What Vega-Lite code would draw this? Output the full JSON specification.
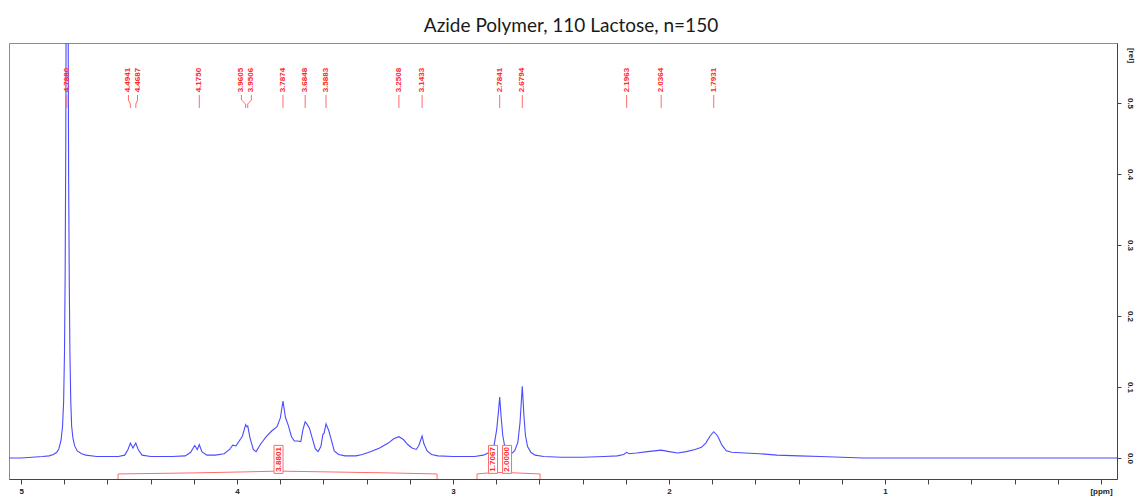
{
  "$schema": "https://vega.github.io/schema/vega-lite/v6.json",
  "width": 1108,
  "height": 436,
  "autosize": {"type": "none"},
  "padding": {"left": 9, "top": 43, "right": 21, "bottom": 19},
  "background": "white",
  "title": {
    "text": "Azide Polymer, 110 Lactose, n=150",
    "frame": "group",
    "font": "Lato",
    "fontSize": 19,
    "fontWeight": "normal",
    "color": "#1a1a1a",
    "anchor": "middle",
    "baseline": "alphabetic",
    "offset": 12,
    "dx": 8,
    "dy": 20
  },
  "config": {
    "view": {"stroke": "#8c8c8c", "strokeWidth": 1},
    "axis": {"grid": false},
    "axisX": {
      "tickSize": 5,
      "tickColor": "#444",
      "domainColor": "#444",
      "labelFont": "Liberation Sans",
      "labelFontSize": 8,
      "labelFontWeight": "bold",
      "labelColor": "#222",
      "labelPadding": 3,
      "labelOverlap": false,
      "labelFlush": false
    },
    "axisY": {
      "labelAngle": 90,
      "labelAlign": "center",
      "labelBaseline": "middle",
      "labelPadding": 8,
      "labelFont": "Liberation Sans",
      "labelFontSize": 8,
      "labelFontWeight": "bold",
      "labelColor": "#222",
      "labelOverlap": false,
      "tickSize": 4,
      "tickColor": "#444",
      "domainColor": "#444",
      "titleAngle": 90,
      "titleX": 13,
      "titleY": 12,
      "titleAlign": "center",
      "titleBaseline": "middle",
      "titleFont": "Liberation Sans",
      "titleFontSize": 8,
      "titleFontWeight": "bold",
      "titleColor": "#222"
    }
  },
  "datasets": {
    "spectrum": [
      {"ppm": 5.056, "i": 0.0}, {"ppm": 5.0, "i": 0.0}, {"ppm": 4.95, "i": 0.001}, {"ppm": 4.9, "i": 0.002},
      {"ppm": 4.87, "i": 0.003}, {"ppm": 4.85, "i": 0.005}, {"ppm": 4.835, "i": 0.008}, {"ppm": 4.825, "i": 0.013},
      {"ppm": 4.815, "i": 0.025}, {"ppm": 4.808, "i": 0.045}, {"ppm": 4.803, "i": 0.08}, {"ppm": 4.799, "i": 0.15},
      {"ppm": 4.796, "i": 0.26}, {"ppm": 4.793, "i": 0.45}, {"ppm": 4.791, "i": 0.7}, {"ppm": 4.789, "i": 1.1},
      {"ppm": 4.788, "i": 1.3}, {"ppm": 4.786, "i": 1.1}, {"ppm": 4.783, "i": 0.7}, {"ppm": 4.78, "i": 0.4},
      {"ppm": 4.777, "i": 0.25}, {"ppm": 4.774, "i": 0.15}, {"ppm": 4.77, "i": 0.08}, {"ppm": 4.766, "i": 0.045},
      {"ppm": 4.76, "i": 0.028}, {"ppm": 4.752, "i": 0.017}, {"ppm": 4.74, "i": 0.01}, {"ppm": 4.72, "i": 0.006},
      {"ppm": 4.7, "i": 0.004}, {"ppm": 4.65, "i": 0.002}, {"ppm": 4.6, "i": 0.002}, {"ppm": 4.55, "i": 0.002},
      {"ppm": 4.52, "i": 0.004}, {"ppm": 4.505, "i": 0.012}, {"ppm": 4.494, "i": 0.021}, {"ppm": 4.482, "i": 0.014},
      {"ppm": 4.469, "i": 0.021}, {"ppm": 4.458, "i": 0.012}, {"ppm": 4.44, "i": 0.004}, {"ppm": 4.4, "i": 0.002},
      {"ppm": 4.3, "i": 0.002}, {"ppm": 4.24, "i": 0.003}, {"ppm": 4.215, "i": 0.008}, {"ppm": 4.196, "i": 0.0175},
      {"ppm": 4.184, "i": 0.012}, {"ppm": 4.175, "i": 0.019}, {"ppm": 4.163, "i": 0.009}, {"ppm": 4.14, "i": 0.004},
      {"ppm": 4.1, "i": 0.004}, {"ppm": 4.06, "i": 0.006}, {"ppm": 4.035, "i": 0.012}, {"ppm": 4.02, "i": 0.018},
      {"ppm": 4.005, "i": 0.017}, {"ppm": 3.99, "i": 0.024}, {"ppm": 3.975, "i": 0.031}, {"ppm": 3.9605, "i": 0.047},
      {"ppm": 3.955, "i": 0.044}, {"ppm": 3.9506, "i": 0.045}, {"ppm": 3.94, "i": 0.028}, {"ppm": 3.925, "i": 0.012},
      {"ppm": 3.912, "i": 0.009}, {"ppm": 3.89, "i": 0.02}, {"ppm": 3.865, "i": 0.03}, {"ppm": 3.84, "i": 0.038},
      {"ppm": 3.815, "i": 0.044}, {"ppm": 3.8, "i": 0.056}, {"ppm": 3.7874, "i": 0.08}, {"ppm": 3.776, "i": 0.057},
      {"ppm": 3.763, "i": 0.046}, {"ppm": 3.748, "i": 0.03}, {"ppm": 3.735, "i": 0.024}, {"ppm": 3.72, "i": 0.024},
      {"ppm": 3.705, "i": 0.023}, {"ppm": 3.695, "i": 0.04}, {"ppm": 3.6848, "i": 0.051}, {"ppm": 3.675, "i": 0.047},
      {"ppm": 3.665, "i": 0.042}, {"ppm": 3.652, "i": 0.028}, {"ppm": 3.638, "i": 0.013}, {"ppm": 3.625, "i": 0.009},
      {"ppm": 3.612, "i": 0.016}, {"ppm": 3.603, "i": 0.033}, {"ppm": 3.597, "i": 0.035}, {"ppm": 3.5883, "i": 0.048},
      {"ppm": 3.576, "i": 0.039}, {"ppm": 3.565, "i": 0.027}, {"ppm": 3.55, "i": 0.01}, {"ppm": 3.53, "i": 0.005},
      {"ppm": 3.5, "i": 0.003}, {"ppm": 3.45, "i": 0.003}, {"ppm": 3.42, "i": 0.005}, {"ppm": 3.38, "i": 0.009},
      {"ppm": 3.34, "i": 0.014}, {"ppm": 3.3, "i": 0.021}, {"ppm": 3.275, "i": 0.027}, {"ppm": 3.2508, "i": 0.03},
      {"ppm": 3.23, "i": 0.026}, {"ppm": 3.21, "i": 0.019}, {"ppm": 3.19, "i": 0.014}, {"ppm": 3.17, "i": 0.012},
      {"ppm": 3.158, "i": 0.018}, {"ppm": 3.1433, "i": 0.031}, {"ppm": 3.135, "i": 0.02}, {"ppm": 3.12, "i": 0.01},
      {"ppm": 3.1, "i": 0.005}, {"ppm": 3.07, "i": 0.003}, {"ppm": 3.0, "i": 0.002}, {"ppm": 2.95, "i": 0.002},
      {"ppm": 2.9, "i": 0.002}, {"ppm": 2.86, "i": 0.004}, {"ppm": 2.83, "i": 0.008}, {"ppm": 2.81, "i": 0.018},
      {"ppm": 2.798, "i": 0.04}, {"ppm": 2.79, "i": 0.065}, {"ppm": 2.7841, "i": 0.086}, {"ppm": 2.778, "i": 0.06},
      {"ppm": 2.77, "i": 0.032}, {"ppm": 2.76, "i": 0.015}, {"ppm": 2.745, "i": 0.007}, {"ppm": 2.73, "i": 0.006},
      {"ppm": 2.715, "i": 0.01}, {"ppm": 2.7, "i": 0.022}, {"ppm": 2.69, "i": 0.05}, {"ppm": 2.6794, "i": 0.101},
      {"ppm": 2.672, "i": 0.06}, {"ppm": 2.665, "i": 0.032}, {"ppm": 2.655, "i": 0.016}, {"ppm": 2.64, "i": 0.008},
      {"ppm": 2.62, "i": 0.004}, {"ppm": 2.58, "i": 0.002}, {"ppm": 2.5, "i": 0.001}, {"ppm": 2.4, "i": 0.001},
      {"ppm": 2.3, "i": 0.002}, {"ppm": 2.24, "i": 0.003}, {"ppm": 2.21, "i": 0.005}, {"ppm": 2.1963, "i": 0.008},
      {"ppm": 2.185, "i": 0.006}, {"ppm": 2.15, "i": 0.007}, {"ppm": 2.1, "i": 0.009}, {"ppm": 2.0364, "i": 0.011},
      {"ppm": 2.0, "i": 0.009}, {"ppm": 1.96, "i": 0.007}, {"ppm": 1.92, "i": 0.009}, {"ppm": 1.88, "i": 0.012},
      {"ppm": 1.85, "i": 0.015}, {"ppm": 1.83, "i": 0.021}, {"ppm": 1.81, "i": 0.031}, {"ppm": 1.7931, "i": 0.037},
      {"ppm": 1.775, "i": 0.031}, {"ppm": 1.755, "i": 0.018}, {"ppm": 1.735, "i": 0.01}, {"ppm": 1.71, "i": 0.008},
      {"ppm": 1.65, "i": 0.007}, {"ppm": 1.58, "i": 0.006}, {"ppm": 1.5, "i": 0.004}, {"ppm": 1.4, "i": 0.003},
      {"ppm": 1.3, "i": 0.002}, {"ppm": 1.2, "i": 0.001}, {"ppm": 1.1, "i": 0.0}, {"ppm": 1.0, "i": 0.0},
      {"ppm": 0.8, "i": 0.0}, {"ppm": 0.5, "i": 0.0}, {"ppm": 0.2, "i": 0.0}, {"ppm": 0.0, "i": 0.0},
      {"ppm": -0.074, "i": 0.0}
    ],
    "peaks": [
      {"ppm": 4.788, "lx": 4.788, "label": "4.7880"},
      {"ppm": 4.4941, "lx": 4.503, "label": "4.4941"},
      {"ppm": 4.4687, "lx": 4.461, "label": "4.4687"},
      {"ppm": 4.175, "lx": 4.175, "label": "4.1750"},
      {"ppm": 3.9605, "lx": 3.98, "label": "3.9605"},
      {"ppm": 3.9506, "lx": 3.934, "label": "3.9506"},
      {"ppm": 3.7874, "lx": 3.7874, "label": "3.7874"},
      {"ppm": 3.6848, "lx": 3.6848, "label": "3.6848"},
      {"ppm": 3.5883, "lx": 3.5883, "label": "3.5883"},
      {"ppm": 3.2508, "lx": 3.2508, "label": "3.2508"},
      {"ppm": 3.1433, "lx": 3.1433, "label": "3.1433"},
      {"ppm": 2.7841, "lx": 2.7841, "label": "2.7841"},
      {"ppm": 2.6794, "lx": 2.6794, "label": "2.6794"},
      {"ppm": 2.1963, "lx": 2.1963, "label": "2.1963"},
      {"ppm": 2.0364, "lx": 2.0364, "label": "2.0364"},
      {"ppm": 1.7931, "lx": 1.7931, "label": "1.7931"}
    ],
    "integralCurves": [
      {"seg": "A", "ppm": 4.551, "level": -0.0296},
      {"seg": "A", "ppm": 4.551, "level": -0.0225},
      {"seg": "A", "ppm": 4.2, "level": -0.021},
      {"seg": "A", "ppm": 3.95, "level": -0.0195},
      {"seg": "A", "ppm": 3.808, "level": -0.0185},
      {"seg": "A", "ppm": 3.6, "level": -0.0195},
      {"seg": "A", "ppm": 3.3, "level": -0.021},
      {"seg": "A", "ppm": 3.074, "level": -0.0225},
      {"seg": "A", "ppm": 3.074, "level": -0.0296},
      {"seg": "B", "ppm": 2.889, "level": -0.0296},
      {"seg": "B", "ppm": 2.889, "level": -0.0225},
      {"seg": "B", "ppm": 2.815, "level": -0.0205},
      {"seg": "B", "ppm": 2.75, "level": -0.0205},
      {"seg": "B", "ppm": 2.597, "level": -0.0225},
      {"seg": "B", "ppm": 2.597, "level": -0.0296}
    ],
    "integrals": [
      {"pos": 3.808, "value": "3.8801"},
      {"pos": 2.815, "value": "1.7067"},
      {"pos": 2.75, "value": "2.0000"}
    ]
  },
  "layer": [
    {
      "data": {"name": "spectrum"},
      "mark": {"type": "line", "clip": true, "color": "#4b4bff", "strokeWidth": 1.1},
      "encoding": {
        "x": {
          "field": "ppm",
          "type": "quantitative",
          "title": null,
          "scale": {"domain": [-0.074, 5.056], "reverse": true, "nice": false, "zero": false},
          "axis": {
            "values": [5, 4.8, 4.6, 4.4, 4.2, 4, 3.8, 3.6, 3.4, 3.2, 3, 2.8, 2.6, 2.4, 2.2, 2, 1.8, 1.6, 1.4, 1.2, 1, 0.8, 0.6, 0.4, 0.2, 0],
            "labelExpr": "datum.value == 0 ? '[ppm]' : (abs(datum.value - round(datum.value)) < 0.001 ? format(datum.value, 'd') : '')"
          }
        },
        "y": {
          "field": "i",
          "type": "quantitative",
          "title": "[rel]",
          "scale": {"domain": [-0.0296, 0.5845], "nice": false, "zero": false},
          "axis": {
            "orient": "right",
            "values": [0, 0.05, 0.1, 0.15, 0.2, 0.25, 0.3, 0.35, 0.4, 0.45, 0.5, 0.55],
            "labelExpr": "abs(datum.value * 10 - round(datum.value * 10)) < 0.01 ? format(datum.value, '.1f') : ''"
          }
        }
      }
    },
    {
      "mark": {"type": "rule", "color": "#a6a6a6", "strokeWidth": 3},
      "encoding": {
        "y": {"datum": 0.5845, "type": "quantitative"}
      }
    },
    {
      "data": {"name": "peaks"},
      "mark": {"type": "text", "angle": 270, "align": "left", "baseline": "middle", "font": "Liberation Sans", "fontSize": 8, "fontWeight": "bold", "color": "#ff2a2a"},
      "encoding": {
        "x": {"field": "lx", "type": "quantitative", "title": null},
        "y": {"datum": 0.515, "type": "quantitative"},
        "text": {"field": "label"}
      }
    },
    {
      "data": {"name": "peaks"},
      "mark": {"type": "rule", "color": "#ff6b6b", "strokeWidth": 1},
      "encoding": {
        "x": {"field": "lx", "type": "quantitative", "title": null},
        "y": {"datum": 0.5113, "type": "quantitative"},
        "y2": {"datum": 0.5042}
      }
    },
    {
      "data": {"name": "peaks"},
      "mark": {"type": "rule", "color": "#ff6b6b", "strokeWidth": 1},
      "encoding": {
        "x": {"field": "lx", "type": "quantitative", "title": null},
        "x2": {"field": "ppm"},
        "y": {"datum": 0.5042, "type": "quantitative"},
        "y2": {"datum": 0.4986}
      }
    },
    {
      "data": {"name": "peaks"},
      "mark": {"type": "rule", "color": "#ff6b6b", "strokeWidth": 1},
      "encoding": {
        "x": {"field": "ppm", "type": "quantitative", "title": null},
        "y": {"datum": 0.4986, "type": "quantitative"},
        "y2": {"datum": 0.493}
      }
    },
    {
      "data": {"name": "integralCurves"},
      "mark": {"type": "line", "color": "#ff6b6b", "strokeWidth": 1},
      "encoding": {
        "x": {"field": "ppm", "type": "quantitative", "title": null},
        "y": {"field": "level", "type": "quantitative", "title": "[rel]"},
        "detail": {"field": "seg"},
        "order": {"value": null}
      }
    },
    {
      "data": {"name": "integrals"},
      "mark": {"type": "rect", "width": 9, "height": 28, "fill": "white", "stroke": "#ff6b6b", "strokeWidth": 1},
      "encoding": {
        "x": {"field": "pos", "type": "quantitative", "title": null},
        "y": {"datum": -0.002, "type": "quantitative"}
      }
    },
    {
      "data": {"name": "integrals"},
      "mark": {"type": "text", "angle": 270, "align": "center", "baseline": "middle", "font": "Liberation Sans", "fontSize": 8, "fontWeight": "bold", "color": "#ff2a2a"},
      "encoding": {
        "x": {"field": "pos", "type": "quantitative", "title": null},
        "y": {"datum": -0.002, "type": "quantitative"},
        "text": {"field": "value"}
      }
    }
  ]
}
